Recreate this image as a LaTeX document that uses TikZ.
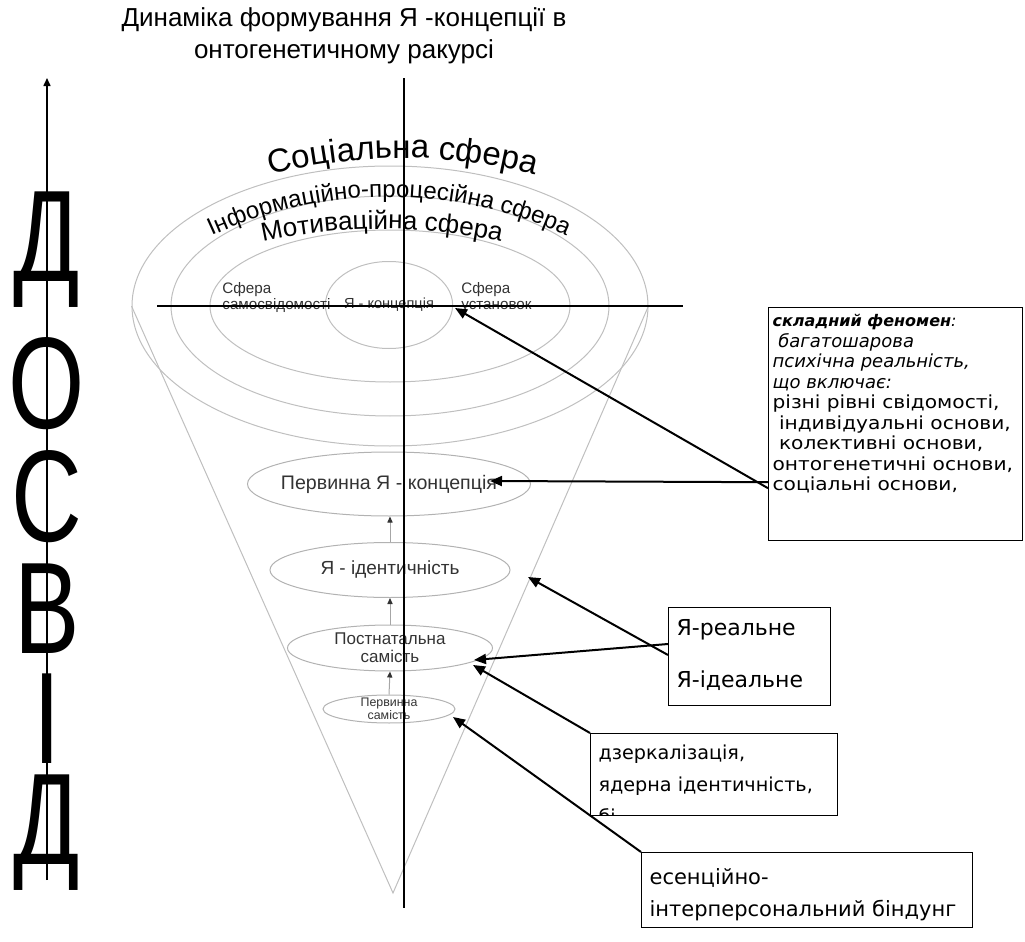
\documentclass[tikz,border=0pt]{standalone}
\usepackage{fontspec}
\usepackage{graphicx}
\setmainfont{Liberation Sans}
\newfontfamily\gothfont{DejaVu Sans}
\newfontfamily\widegoth[FakeStretch=1.12]{DejaVu Sans}
\usetikzlibrary{shapes.geometric,arrows.meta,decorations.text,positioning}

\begin{document}
\begin{tikzpicture}[x=1pt,y=1pt]
\tikzset{ring/.style={ellipse, draw=black!25, line width=0.5pt, inner sep=0pt}}
\tikzset{stage/.style={ellipse, draw=black!30, line width=0.5pt, inner sep=0pt}}
\tikzset{stagetext/.style={text=black!80, align=center, inner sep=0pt}}
\tikzset{note/.style={draw, line width=0.6pt, anchor=north west, inner xsep=4pt, inner ysep=0pt, font=\gothfont\fontsize{10.5}{16}\selectfont}}
\tikzset{pointer/.style={line width=1pt, -{Triangle[length=6pt,width=5pt]}}}
\tikzset{lift/.style={draw=black!35, line width=0.5pt, -{Triangle[length=3pt,width=2.6pt,color=black!80]}}}
\tikzset{bigletter/.style={font=\fontsize{49}{49}\selectfont, anchor=base, inner sep=0pt}}
\tikzset{sphere/.style={text=black!80, align=left, anchor=base west, inner sep=0pt, font=\fontsize{7.6}{8}\selectfont}}

\useasboundingbox (0,0) rectangle (512.5,-471);

\node[align=center, font=\fontsize{13}{16}\selectfont] (title) at (172,-18) {Динаміка формування Я -концепції в\\онтогенетичному ракурсі};

\node[ring, minimum width=258pt, minimum height=140pt] (social) at (195,-153) {};
\node[ring, minimum width=219pt, minimum height=110pt] (info) at (195,-153) {};
\node[ring, minimum width=180pt, minimum height=76pt] (motiv) at (195,-153) {};
\node[ring, minimum width=53.5pt, minimum height=43.5pt, text=black!80, font=\fontsize{7.3}{8}\selectfont] (jak) at (194.5,-152.5) {Я - концепція};
\node[sphere] (selfsph) at (111,-154.5) {Сфера\\самосвідомості};
\node[sphere] (setsph) at (230.5,-154.5) {Сфера\\установок};

\coordinate (soc) at (201.5,-339);
\coordinate (inf) at (194.5,-310.5);
\coordinate (mot) at (191,-394.5);
\path[decorate, decoration={text along path, text align=center, text={|\fontsize{16.5}{16.5}\selectfont|Соціальна сфера}}] ([shift={(115:260)}]soc) arc[start angle=115, end angle=65, radius=260];
\path[decorate, decoration={text along path, text align=center, text={|\fontsize{12}{12}\selectfont|Інформаційно-процесійна сфера}}] ([shift={(130:212)}]inf) arc[start angle=130, end angle=50, radius=212];
\path[decorate, decoration={text along path, text align=center, text={|\fontsize{13}{13}\selectfont|Мотиваційна сфера}}] ([shift={(108:280)}]mot) arc[start angle=108, end angle=72, radius=280];

\coordinate (apex) at (196.5,-446.5);
\draw[draw=black!25, line width=0.5pt] (social.west) -- (apex) -- (social.east);

\node[stage, minimum width=141.5pt, minimum height=32pt, label={[stagetext, font=\fontsize{9.8}{11}\selectfont]center:Первинна Я - концепція}] (pjk) at (194.5,-242) {};
\node[stage, minimum width=120pt, minimum height=27.5pt, label={[stagetext, font=\fontsize{9.5}{11}\selectfont]center:Я - ідентичність}] (jid) at (195,-285) {};
\node[stage, minimum width=102.5pt, minimum height=23pt, label={[stagetext, font=\fontsize{8.5}{9}\selectfont]center:{Постнатальна\\самість}}] (psam) at (195,-324) {};
\node[stage, minimum width=66pt, minimum height=14pt, label={[stagetext, font=\fontsize{6.2}{6.5}\selectfont]center:{Первинна\\самість}}] (prsam) at (194.5,-354.5) {};

\draw[lift] (prsam.north) -- (psam.south);
\draw[lift] (psam.north) -- (jid.south);
\draw[lift] (jid.north) -- (jid.north |- pjk.south);

\draw[line width=0.75pt] (202,-39) coordinate (axtop) -- (202,-454) coordinate (axbot);
\draw[line width=0.75pt] (78.5,-153) coordinate (axwest) -- (341.5,-153) coordinate (axeast);

\node[note, inner xsep=2pt, font=\widegoth\fontsize{9}{10.25}\selectfont] (phen) at (384,-153.5) {\parbox[c][116.5pt][t]{123pt}{\raggedright\rule{0pt}{9.5pt}{\gothfont\fontsize{8}{10.25}\selectfont\textbf{\textit{складний феномен}}\textit{:}}\\
{\gothfont\itshape\ багатошарова}\\
{\gothfont\itshape психічна реальність,}\\
{\gothfont\itshape що включає:}\\
різні рівні свідомості,\\
\ індивідуальні основи,\\
\ колективні основи,\\
онтогенетичні основи,\\
соціальні основи,}};
\node[note, font=\gothfont\fontsize{11}{16}\selectfont] (ideal) at (334,-303.5) {\parbox[c][49pt][t]{73pt}{\raggedright\rule{0pt}{14pt}Я-реальне\\[10pt]Я-ідеальне}};
\begin{scope}
\clip (290,-360) rectangle (425,-407.8);
\node[note, font=\gothfont\fontsize{9.6}{16}\selectfont] (mirror) at (295,-366.5) {\parbox[c][41pt][t]{115.5pt}{\raggedright\rule{0pt}{13pt}дзеркалізація,\\ядерна ідентичність,\\бі}};
\end{scope}
\node[note] (bind) at (320.5,-426) {\parbox[c][37.5pt][t]{157.5pt}{\raggedright\rule{0pt}{16pt}есенційно-\\інтерперсональний біндунг}};

\coordinate (jaktip) at (227.5,-154);
\coordinate (pjktip) at (245,-240.5);
\coordinate (psamtip) at (237,-330);
\coordinate (psamtip2) at (236.5,-332.5);
\coordinate (jidtip) at (264,-288.5);
\coordinate (prsamtip) at (226.5,-358.5);
\draw[pointer] ([yshift=26.5pt]phen.south west) -- (jaktip);
\draw[pointer] ([yshift=29.5pt]phen.south west) -- (pjktip);
\draw[pointer] ([yshift=-18.5pt]ideal.north west) -- (psamtip);
\draw[pointer] ([yshift=-24pt]ideal.north west) -- (jidtip);
\draw[pointer] (mirror.north west) -- (psamtip2);
\draw[pointer] (bind.north west) -- (prsamtip);

\node[bigletter] (l1) at (23.5,-140.5) {\scalebox{1}[1.33]{Д}};
\node[bigletter] (l2) at (23.5,-214) {\scalebox{1}[1.33]{О}};
\node[bigletter] (l3) at (23.5,-270.5) {\scalebox{1}[1.33]{С}};
\node[bigletter] (l4) at (23.5,-326.5) {\scalebox{1}[1.33]{В}};
\node[bigletter] (l5) at (23.5,-381.5) {\scalebox{1}[1.33]{І}};
\node[bigletter] (l6) at (23.5,-432) {\scalebox{1}[1.33]{Д}};
\coordinate (exptop) at (23.5,-39);
\coordinate (expbot) at (23.5,-440);
\draw[line width=0.75pt, -{Triangle[length=4pt,width=3.5pt]}] (expbot) -- (exptop);
\end{tikzpicture}
\end{document}
